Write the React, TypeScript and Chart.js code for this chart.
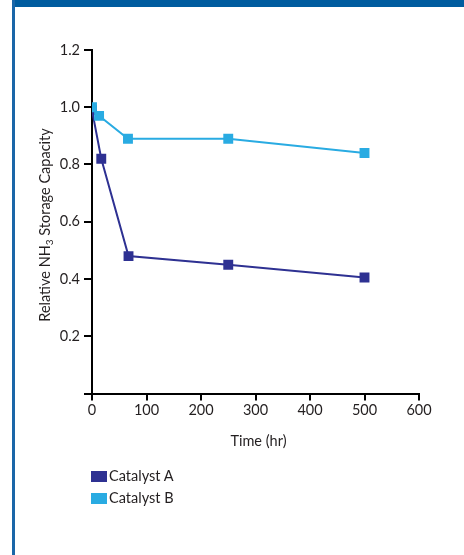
import React, { useEffect, useRef } from "react";
import { Chart, registerables } from "chart.js";

Chart.register(...registerables);

const timeA = [0, 17, 67, 250, 500];
const catalystA = [0.99, 0.82, 0.48, 0.45, 0.405];
const timeB = [0, 13, 66, 250, 500];
const catalystB = [1.0, 0.97, 0.89, 0.89, 0.84];
const xTicks = [0, 100, 200, 300, 400, 500, 600];
const yTicks = [0, 0.2, 0.4, 0.6, 0.8, 1.0, 1.2];
const seriesNames = ["Catalyst A", "Catalyst B"];
const xTitle = "Time (hr)";
const colorA = "#2e3192";
const colorB = "#29abe2";
const FONT = "Lato, 'Open Sans', sans-serif";
const TEXT = "#231f20";

const titlesPlugin = {
  id: "axisTitles",
  afterDraw(chart: any) {
    const ctx = chart.ctx;
    const big = "14.5px " + FONT;
    const small = "10px " + FONT;
    ctx.save();
    ctx.font = big;
    ctx.fillStyle = TEXT;
    ctx.textAlign = "center";
    ctx.textBaseline = "middle";
    const xs = chart.scales.x;
    ctx.fillText(xTitle, (xs.left + xs.right) / 2 + 3, 441);
    ctx.restore();
    ctx.save();
    ctx.translate(45.5, 225);
    ctx.rotate(-Math.PI / 2);
    ctx.fillStyle = TEXT;
    ctx.textBaseline = "middle";
    const parts = [
      { t: "Relative NH", f: big, dy: 0 },
      { t: "3", f: small, dy: 4 },
      { t: " Storage Capacity", f: big, dy: 0 },
    ];
    let total = 0;
    parts.forEach((p) => {
      ctx.font = p.f;
      total += ctx.measureText(p.t).width;
    });
    let x = -total / 2;
    ctx.textAlign = "left";
    parts.forEach((p) => {
      ctx.font = p.f;
      ctx.fillText(p.t, x, p.dy);
      x += ctx.measureText(p.t).width;
    });
    ctx.restore();
  },
};

export default function App() {
  const ref = useRef<HTMLCanvasElement | null>(null);
  useEffect(() => {
    if (!ref.current) return;
    const chart = new Chart(ref.current, {
      type: "scatter",
      data: {
        datasets: [
          {
            label: seriesNames[0],
            data: timeA.map((x, i) => ({ x, y: catalystA[i] })),
            showLine: true,
            borderColor: colorA,
            backgroundColor: colorA,
            borderWidth: 2,
            pointStyle: "rect",
            pointRadius: 7,
            pointBorderWidth: 0,
            order: 1,
          },
          {
            label: seriesNames[1],
            data: timeB.map((x, i) => ({ x, y: catalystB[i] })),
            showLine: true,
            borderColor: colorB,
            backgroundColor: colorB,
            borderWidth: 2,
            pointStyle: "rect",
            pointRadius: 7,
            pointBorderWidth: 0,
            order: 0,
          },
        ],
      },
      options: {
        responsive: false,
        animation: false,
        devicePixelRatio: 1,
        layout: { padding: { left: 0, right: 45, top: 50, bottom: 0 } },
        plugins: { legend: { display: false }, tooltip: { enabled: false } },
        scales: {
          x: {
            type: "linear",
            min: 0,
            max: 600,
            position: "bottom",
            afterBuildTicks: (s: any) => {
              s.ticks = xTicks.map((v) => ({ value: v }));
            },
            afterFit: (s: any) => {
              s.height = 161.5;
            },
            grid: {
              display: true,
              drawOnChartArea: false,
              drawTicks: true,
              tickLength: 7,
              color: "#000",
              lineWidth: 2,
            },
            border: { display: true, color: "#000", width: 2 },
            ticks: {
              font: { family: FONT, size: 14.5 },
              color: TEXT,
              padding: 1,
              maxRotation: 0,
            },
          },
          y: {
            type: "linear",
            min: 0,
            max: 1.2,
            position: "left",
            afterBuildTicks: (s: any) => {
              s.ticks = yTicks.map((v) => ({ value: v }));
            },
            afterFit: (s: any) => {
              s.width = 92;
            },
            grid: {
              display: true,
              drawOnChartArea: false,
              drawTicks: true,
              tickLength: 8,
              color: "#000",
              lineWidth: 2,
            },
            border: { display: true, color: "#000", width: 2 },
            ticks: {
              font: { family: FONT, size: 14.5 },
              color: TEXT,
              padding: 4,
              callback: (v: any) => (Number(v) === 0 ? "" : Number(v).toFixed(1)),
            },
          },
        },
      },
      plugins: [titlesPlugin],
    });
    return () => chart.destroy();
  }, []);

  const legendItem = (name: string, color: string, top: number) => (
    <div
      key={name}
      style={{
        position: "absolute",
        left: 91,
        top,
        display: "flex",
        alignItems: "center",
        fontFamily: FONT,
        fontSize: 14.5,
        color: TEXT,
        lineHeight: "16px",
      }}
    >
      <span style={{ display: "inline-block", width: 16, height: 11, background: color, marginRight: 2 }} />
      {name}
    </div>
  );

  return (
    <div style={{ position: "fixed", left: 0, top: 0, width: 464, height: 555, background: "#fff", overflow: "hidden" }}>
      <canvas ref={ref} width={464} height={555} style={{ position: "absolute", left: 0, top: 0 }} />
      <div style={{ position: "absolute", left: 12, top: 0, width: 452, height: 7, background: "#005c9f" }} />
      <div style={{ position: "absolute", left: 12, top: 0, width: 3, height: 555, background: "#1a66a8" }} />
      {legendItem(seriesNames[0], colorA, 468)}
      {legendItem(seriesNames[1], colorB, 490)}
    </div>
  );
}
